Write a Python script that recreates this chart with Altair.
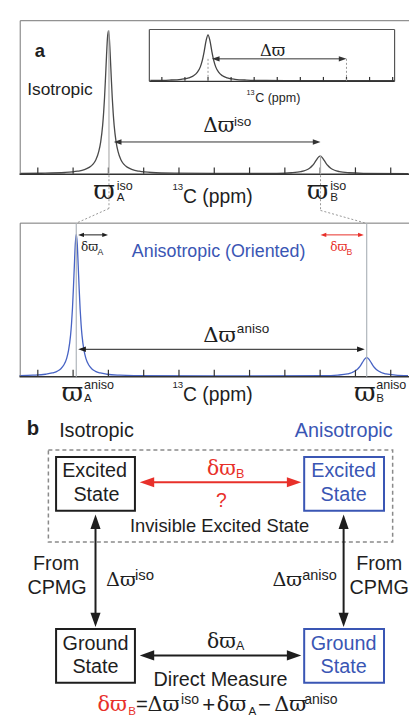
import altair as alt
import pandas as pd

# ---------------- data ----------------
# spectra: chemical-shift position (tick units) and intensity (a.u.)
TOP_U = [-0.5, 0.093, 0.774, 1.128, 1.319, 1.455, 1.564, 1.646, 1.728, 1.782, 1.837, 1.864, 1.891, 1.918, 1.946, 1.973, 2.0,
         2.027, 2.054, 2.082, 2.109, 2.136, 2.163, 2.218, 2.272, 2.354, 2.436, 2.545, 2.681, 2.872, 3.226, 3.907, 5.0,
         6.774, 7.183, 7.455, 7.591, 7.700, 7.782, 7.837, 7.891, 7.946, 8.0,
         8.054, 8.109, 8.163, 8.218, 8.300, 8.409, 8.545, 8.817, 9.226, 10.5]
TOP_I = [0.3, 0.55, 1.3, 2.6, 4.2, 6.5, 9.8, 14.4, 22.8, 32.7, 49.5, 62, 78, 98, 120, 138.5, 146,
         138.5, 120, 98, 78, 62, 49.5, 32.7, 22.8, 14.4, 9.8, 6.5, 4.2, 2.6, 1.3, 0.6, 0.3,
         0.5, 1.06, 2.2, 3.6, 5.7, 8.4, 11, 14, 16.8, 18,
         16.8, 14, 11, 8.4, 5.7, 3.6, 2.2, 1.06, 0.5, 0.2]

BOT_U = [-0.52, -0.136, 0.218, 0.409, 0.545, 0.654, 0.736, 0.818, 0.872, 0.927, 0.954, 0.981, 1.008, 1.036, 1.063, 1.09,
         1.117, 1.144, 1.172, 1.199, 1.226, 1.253, 1.308, 1.362, 1.444, 1.526, 1.635, 1.771, 1.962, 2.316, 2.725, 5.0,
         8.094, 8.503, 8.775, 8.911, 9.020, 9.102, 9.157, 9.211, 9.266, 9.32,
         9.374, 9.429, 9.483, 9.538, 9.620, 9.729, 9.865, 10.137, 10.49]
BOT_I = [0.6, 1.0, 2.0, 3.3, 5.0, 7.7, 11.4, 18.3, 26.7, 41.5, 53.1, 68.8, 89.3, 113.5, 135.6, 145,
         135.6, 113.5, 89.3, 68.8, 53.1, 41.5, 26.7, 18.3, 11.4, 7.7, 5.0, 3.3, 2.0, 1.0, 0.58, 0.25,
         0.52, 1.12, 2.34, 3.8, 6.0, 8.9, 11.6, 14.8, 17.7, 19,
         17.7, 14.8, 11.6, 8.9, 6.0, 3.8, 2.34, 1.12, 0.55]

INSET_U = [-0.5, 0.333, 0.833, 1.167, 1.375, 1.542, 1.667, 1.75, 1.833, 1.917, 2.0,
           2.083, 2.167, 2.25, 2.333, 2.458, 2.625, 2.833, 3.167, 3.667, 4.5, 6.0, 10.08]
INSET_I = [0.37, 0.8, 1.6, 3.1, 5.2, 8.9, 14.3, 20.6, 30, 41.1, 47,
           41.1, 30, 20.6, 14.3, 8.9, 5.2, 3.1, 1.6, 0.8, 0.37, 0.2, 0.1]

TICKS = list(range(0, 11))

DARK = "#1e1e1e"
BLUE = "#3a56b4"
RED = "#e8302a"
GREY = "#999999"
FONT = "Liberation Sans"
GREEK = "DejaVu Serif"

# ---------------- layout (figure pixel space 417 x 726) ----------------
W, H = 401, 710
SX, SY = W / 417, H / 726
FS = 0.965
cx = alt.Scale(domain=[0, 417], range=[0, W], nice=False, zero=False)
cy = alt.Scale(domain=[0, 726], range=[0, H], nice=False, zero=False)
X = alt.X("x:Q", scale=cx, axis=None)
Y = alt.Y("y:Q", scale=cy, axis=None)


def spectrum(us, ints, xr, yr, ymax, color, ticklen):
    xs = alt.Scale(domain=[0, 10], range=[xr[0] * SX, xr[1] * SX], nice=False, zero=False)
    ys = alt.Scale(domain=[0, ymax], range=[yr[0] * SY, yr[1] * SY], nice=False, zero=False)
    curve = alt.Chart(pd.DataFrame({"u": us, "i": ints})).mark_line(
        interpolate="monotone", color=color, strokeWidth=1.3
    ).encode(x=alt.X("u:Q", scale=xs, axis=None), y=alt.Y("i:Q", scale=ys, axis=None))
    tk = alt.Chart(pd.DataFrame({"u": TICKS, "i0": 0, "i1": ticklen})).mark_rule(
        color="#333333", strokeWidth=1.2
    ).encode(x=alt.X("u:Q", scale=xs, axis=None), y=alt.Y("i0:Q", scale=ys, axis=None), y2="i1:Q")
    return alt.layer(curve, tk)


top_spec = spectrum(TOP_U, TOP_I, (31, 398), (169.5, 23.5), 146, "#4a4a4a", 6.5)
bot_spec = spectrum(BOT_U, BOT_I, (31, 398), (376.5, 231.5), 145, "#4763c4", 6.5)
ins_spec = spectrum(INSET_U, INSET_I, (160, 400), (74.5, 27.5), 47, "#444444", 4)

# solid rules: x1, y1, x2, y2, color, width
solid = [
    (12.7, 13, 417, 13, "#777777", 1), (12.7, 13, 12.7, 170, "#777777", 1), (12, 170, 417, 170, "#333333", 1.5),
    (12.7, 220, 417, 220, "#777777", 1), (12.7, 220, 12.7, 377, "#777777", 1), (12, 377, 417, 377, "#333333", 1.5),
    (147, 22, 402, 22, "#555555", 1.2), (147, 22, 147, 75, "#555555", 1.2), (402, 22, 402, 75, "#555555", 1.2),
    (147, 75, 402, 75, "#333333", 1.3),
    (105, 23, 105, 170, "#b0b0b0", 1.2), (325, 151, 325, 170, "#b0b0b0", 1.2),
    (71, 220, 71, 377, "#b0b6bc", 1.2), (373, 220, 373, 377, "#b0b6bc", 1.2),
]
dotted = [
    (105, 171, 105, 205), (105, 205, 71, 220), (325, 171, 325, 207), (325, 207, 372, 220),
    (208, 52, 208, 75), (352, 52, 352, 75),
]
# arrows: x1, y1, x2, y2, color, line width, head length
arrows = [
    (110, 137, 325, 137, "#333333", 1, 8),
    (212, 52, 352, 52, "#333333", 1, 8),
    (73, 232, 104, 232, DARK, 1, 6),
    (325, 232, 370, 232, RED, 1, 6),
    (73, 349, 371, 349, DARK, 1, 8),
    (137, 485, 305, 485, RED, 2, 15),
    (91, 518, 91, 633, DARK, 2, 15),
    (349, 518, 349, 633, DARK, 2, 15),
    (137, 662, 305, 662, DARK, 2, 15),
]
boxes = [
    (50, 459, 132, 514, DARK), (308, 459, 391, 514, BLUE),
    (50, 635, 132, 690, DARK), (308, 635, 391, 690, BLUE),
]
dash_box = [(42, 452, 400, 546)]

center_texts = [
    (54, 84, "Isotropic", 18, DARK),
    (219, 250, "Anisotropic (Oriented)", 18.5, BLUE),
    (92, 433, "Isotropic", 20.5, DARK),
    (90, 473, "Excited", 20.5, DARK), (92, 498, "State", 20.5, DARK),
    (349, 473, "Excited", 20.5, BLUE), (349, 498, "State", 20.5, BLUE),
    (91, 650, "Ground", 20.5, DARK), (91, 674, "State", 20.5, DARK),
    (349, 650, "Ground", 20.5, BLUE), (349, 674, "State", 20.5, BLUE),
    (222, 504, "?", 20, RED),
    (220, 530, "Invisible Excited State", 19, DARK),
    (50, 569, "From", 20.5, DARK), (51, 593, "CPMG", 20.5, DARK),
    (386, 569, "From", 20.5, DARK), (386, 593, "CPMG", 20.5, DARK),
    (221, 687.5, "Direct Measure", 20.5, DARK),
]
right_texts = [(400, 433, "Anisotropic", 20.5, BLUE)]
bold_texts = [(33, 44, "a", 19, DARK), (26, 430, "b", 21, DARK)]
# Greek symbols (serif, like the figure's Symbol font)
greek_texts = [
    (203, 121, "Δϖ", 21, DARK),
    (89, 187.5, "ϖ", 27, DARK), (311, 187.5, "ϖ", 27, DARK),
    (262, 44, "Δϖ", 17, DARK),
    (76, 244, "δϖ", 12.5, DARK), (335, 244, "δϖ", 12.5, RED),
    (203, 335.5, "Δϖ", 22, DARK),
    (56, 393.5, "ϖ", 27, DARK), (360, 393.5, "ϖ", 27, DARK),
    (207, 471, "δϖ", 21, RED),
    (102, 585, "Δϖ", 20, DARK), (275, 585, "Δϖ", 20, DARK),
    (207, 648, "δϖ", 21, DARK),
    # formula
    (93, 712.5, "δϖ", 21.5, RED), (145, 712.5, "Δϖ", 21.5, DARK),
    (217, 712.5, "δϖ", 21.5, DARK), (277, 712.5, "Δϖ", 21.5, DARK),
]
left_texts = [
    # top panel
    (235, 117, "iso", 14, DARK),
    (113, 181.5, "iso", 13, DARK), (113, 194.5, "A", 12, DARK),
    (335, 181.5, "iso", 13, DARK), (335, 194.5, "B", 12, DARK),
    (171, 183, "13", 10, DARK), (182, 193, "C (ppm)", 20, DARK),
    (248, 87, "13", 7.5, DARK), (257, 92, "C (ppm)", 13, DARK),
    # bottom panel
    (93, 249, "A", 9, DARK), (352, 249, "B", 9, RED),
    (238, 328, "aniso", 14, DARK),
    (79, 386, "aniso", 13, DARK), (79, 399.5, "A", 12, DARK),
    (383, 386, "aniso", 13, DARK), (383, 399.5, "B", 12, DARK),
    (171, 386, "13", 10, DARK), (182, 396, "C (ppm)", 20, DARK),
    # panel b
    (237, 477, "B", 13, RED),
    (132, 581, "iso", 15.5, DARK), (306, 581, "aniso", 15, DARK),
    (237, 652, "A", 13, DARK),
    # formula
    (125, 719.5, "B", 12, RED), (133, 712.5, "=", 21, DARK), (180, 708, "iso", 14.5, DARK),
    (202, 712.5, "+", 23, DARK), (250, 719.5, "A", 12, DARK),
    (260, 712.5, "−", 23, DARK), (308, 708, "aniso", 14.5, DARK),
]

# ---------------- build layers ----------------
solid_df = pd.DataFrame(solid, columns=["x", "y", "x2", "y2", "c", "w"])
dot_df = pd.DataFrame(dotted, columns=["x", "y", "x2", "y2"])

line_rows, head_rows = [], []
for x1, y1, x2, y2, c, w, hl in arrows:
    horiz = y1 == y2
    sh = hl * 0.5
    if horiz:
        line_rows.append((x1 + sh, y1, x2 - sh, y2, c, w))
        head_rows.append((x1, y1, 180, hl * hl * SX * SX, c))
        head_rows.append((x2, y2, 0, hl * hl * SX * SX, c))
    else:
        line_rows.append((x1, y1 + sh, x2, y2 - sh, c, w))
        head_rows.append((x1, y1, 270, hl * hl * SX * SX, c))
        head_rows.append((x2, y2, 90, hl * hl * SX * SX, c))
arrow_df = pd.DataFrame(line_rows, columns=["x", "y", "x2", "y2", "c", "w"])
head_df = pd.DataFrame(head_rows, columns=["x", "y", "a", "s", "c"])


def rules(df):
    return alt.Chart(df).mark_rule().encode(
        x=X, y=Y, x2="x2:Q", y2="y2:Q",
        color=alt.Color("c:N", scale=None),
        strokeWidth=alt.StrokeWidth("w:Q", scale=None),
    )


solid_layer = rules(solid_df)
arrow_layer = rules(arrow_df)
dot_layer = alt.Chart(dot_df).mark_rule(color=GREY, strokeWidth=1, strokeDash=[2, 2]).encode(
    x=X, y=Y, x2="x2:Q", y2="y2:Q"
)
box_layer = alt.Chart(pd.DataFrame(boxes, columns=["x", "y", "x2", "y2", "c"])).mark_rect(
    filled=False, strokeWidth=2
).encode(x=X, y=Y, x2="x2:Q", y2="y2:Q", color=alt.Color("c:N", scale=None))
dash_layer = alt.Chart(pd.DataFrame(dash_box, columns=["x", "y", "x2", "y2"])).mark_rect(
    filled=False, stroke="#8a8a8a", strokeWidth=1.5, strokeDash=[4, 3]
).encode(x=X, y=Y, x2="x2:Q", y2="y2:Q")
head_layer = alt.Chart(head_df).mark_point(
    shape="M0,0L-2,-0.7L-2,0.7Z", filled=True, opacity=1, strokeWidth=0
).encode(
    x=X, y=Y, angle=alt.Angle("a:Q", scale=None), size=alt.Size("s:Q", scale=None),
    color=alt.Color("c:N", scale=None),
)


def text_layer(rows, align, bold=False, font=FONT):
    df = pd.DataFrame(rows, columns=["x", "y", "t", "s", "c"])
    df["s"] = df["s"] * FS
    return alt.Chart(df).mark_text(
        align=align, baseline="middle", font=font, fontWeight="bold" if bold else "normal"
    ).encode(
        x=X, y=Y, text="t:N", size=alt.Size("s:Q", scale=None), color=alt.Color("c:N", scale=None)
    )


canvas = alt.layer(
    solid_layer, dot_layer, dash_layer, box_layer, arrow_layer, head_layer,
    text_layer(center_texts, "center"), text_layer(right_texts, "right"),
    text_layer(left_texts, "left"), text_layer(greek_texts, "left", font=GREEK),
    text_layer(bold_texts, "center", bold=True),
)

chart = alt.layer(top_spec, bot_spec, ins_spec, canvas).resolve_scale(
    x="independent", y="independent"
).properties(
    width=W, height=H, padding=0, autosize=alt.AutoSizeParams(type="none"),
    background="white",
).configure_view(strokeWidth=0)

chart.save("out.html", embed_options={"renderer": "svg", "actions": False})
